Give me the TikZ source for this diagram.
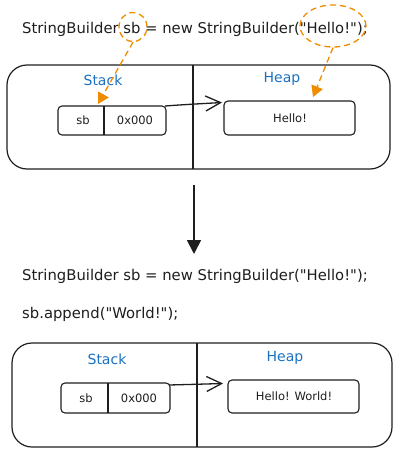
\documentclass[tikz,border=0pt]{standalone}
\usepackage{fontspec}
\newfontfamily\dv{DejaVu Sans}
\usetikzlibrary{arrows.meta,shapes.geometric}
\definecolor{exorange}{HTML}{F08C00}
\definecolor{exblue}{HTML}{1971C2}
\definecolor{exink}{HTML}{1E1E1E}
\tikzset{
  code/.style={font=\dv\fontsize{14.8}{17}\selectfont, text=exink, inner sep=0pt, anchor=base west},
  region/.style={draw=exink, line width=1.2pt, rounded corners=20pt},
  divider/.style={draw=exink, line width=1.2pt},
  title/.style={font=\dv\fontsize{14}{16}\selectfont, text=exblue, inner sep=0pt},
  cell/.style={draw=exink, line width=1.1pt, rounded corners=4pt},
  celltext/.style={font=\dv\fontsize{11.5}{13}\selectfont, text=exink, inner sep=0pt},
  ptr/.style={draw=exink, line width=1.3pt, -{Straight Barb[length=15pt,width=15pt,line width=1.3pt]}},
  hl/.style={draw=exorange, line width=1.3pt, dash pattern=on 6pt off 4pt, ellipse},
  hlarrow/.style={draw=exorange, line width=1.3pt, dash pattern=on 6pt off 4pt, -{Triangle[length=11pt,width=12pt,fill=exorange]}},
  flow/.style={draw=exink, line width=1.8pt, -{Triangle[length=14pt,width=14pt]}}
}
\begin{document}
\begin{tikzpicture}[x=1pt,y=-1pt]
\useasboundingbox (0,0) rectangle (400,455);
% ---------- top part ----------
\node[code] (l1) at (22,33) {StringBuilder sb = new StringBuilder("Hello!");};
\node[hl, minimum width=28pt, minimum height=29pt, inner sep=0pt] (e1) at (133,27) {};
\node[hl, minimum width=66pt, minimum height=42pt, inner sep=0pt] (e2) at (333,26) {};

\draw[region] (7,65) rectangle (390,169);
\coordinate (d1t) at (193,65);
\coordinate (d1b) at (193,169);
\draw[divider] (d1t) -- (d1b);
\node[title] (st1) at (103,80) {Stack};
\node[title] (hp1) at (282,79) {Heap};

\draw[cell] (58,106) rectangle (166,135);
\coordinate (c1t) at (104,106);
\coordinate (c1b) at (104,135);
\draw[divider, line width=1.1pt] (c1t) -- (c1b);
\node[celltext] (sb1) at (83,120.5) {sb};
\node[celltext] (addr1) at (135,120.5) {0x000};
\coordinate (ptr1s) at (165,106);

\draw[cell] (224,101) rectangle (355,135);
\node[celltext] (hv1) at (290,118) {Hello!};
\coordinate (heap1) at (222,102.5);

\draw[ptr] (ptr1s) .. controls (185,104.5) and (205,103.5) .. (heap1);
\draw[hlarrow] (e1.south) -- (98,104);
\draw[hlarrow] (e2.south) -- (313,97);

% ---------- transition ----------
\coordinate (ft) at (194,185);
\coordinate (fb) at (194,254);
\draw[flow] (ft) -- (fb);

% ---------- bottom part ----------
\node[code] (l2) at (22,280) {StringBuilder sb = new StringBuilder("Hello!");};
\node[code] (l3) at (22,318) {sb.append("World!");};

\draw[region] (12,343) rectangle (392,447);
\coordinate (d2t) at (197,343);
\coordinate (d2b) at (197,447);
\draw[divider] (d2t) -- (d2b);
\node[title] (st2) at (107,359) {Stack};
\node[title] (hp2) at (285,358) {Heap};

\draw[cell] (61,383) rectangle (170,413);
\coordinate (c2t) at (108,383);
\coordinate (c2b) at (108,413);
\draw[divider, line width=1.1pt] (c2t) -- (c2b);
\node[celltext] (sb2) at (86,398) {sb};
\node[celltext] (addr2) at (139,398) {0x000};
\coordinate (ptr2s) at (169,385);

\draw[cell] (228,380) rectangle (359,413);
\node[celltext] (hv2) at (294,396) {Hello! World!};
\coordinate (heap2) at (223,383.5);
\draw[ptr] (ptr2s) .. controls (188,384.5) and (206,384) .. (heap2);
\end{tikzpicture}
\end{document}
